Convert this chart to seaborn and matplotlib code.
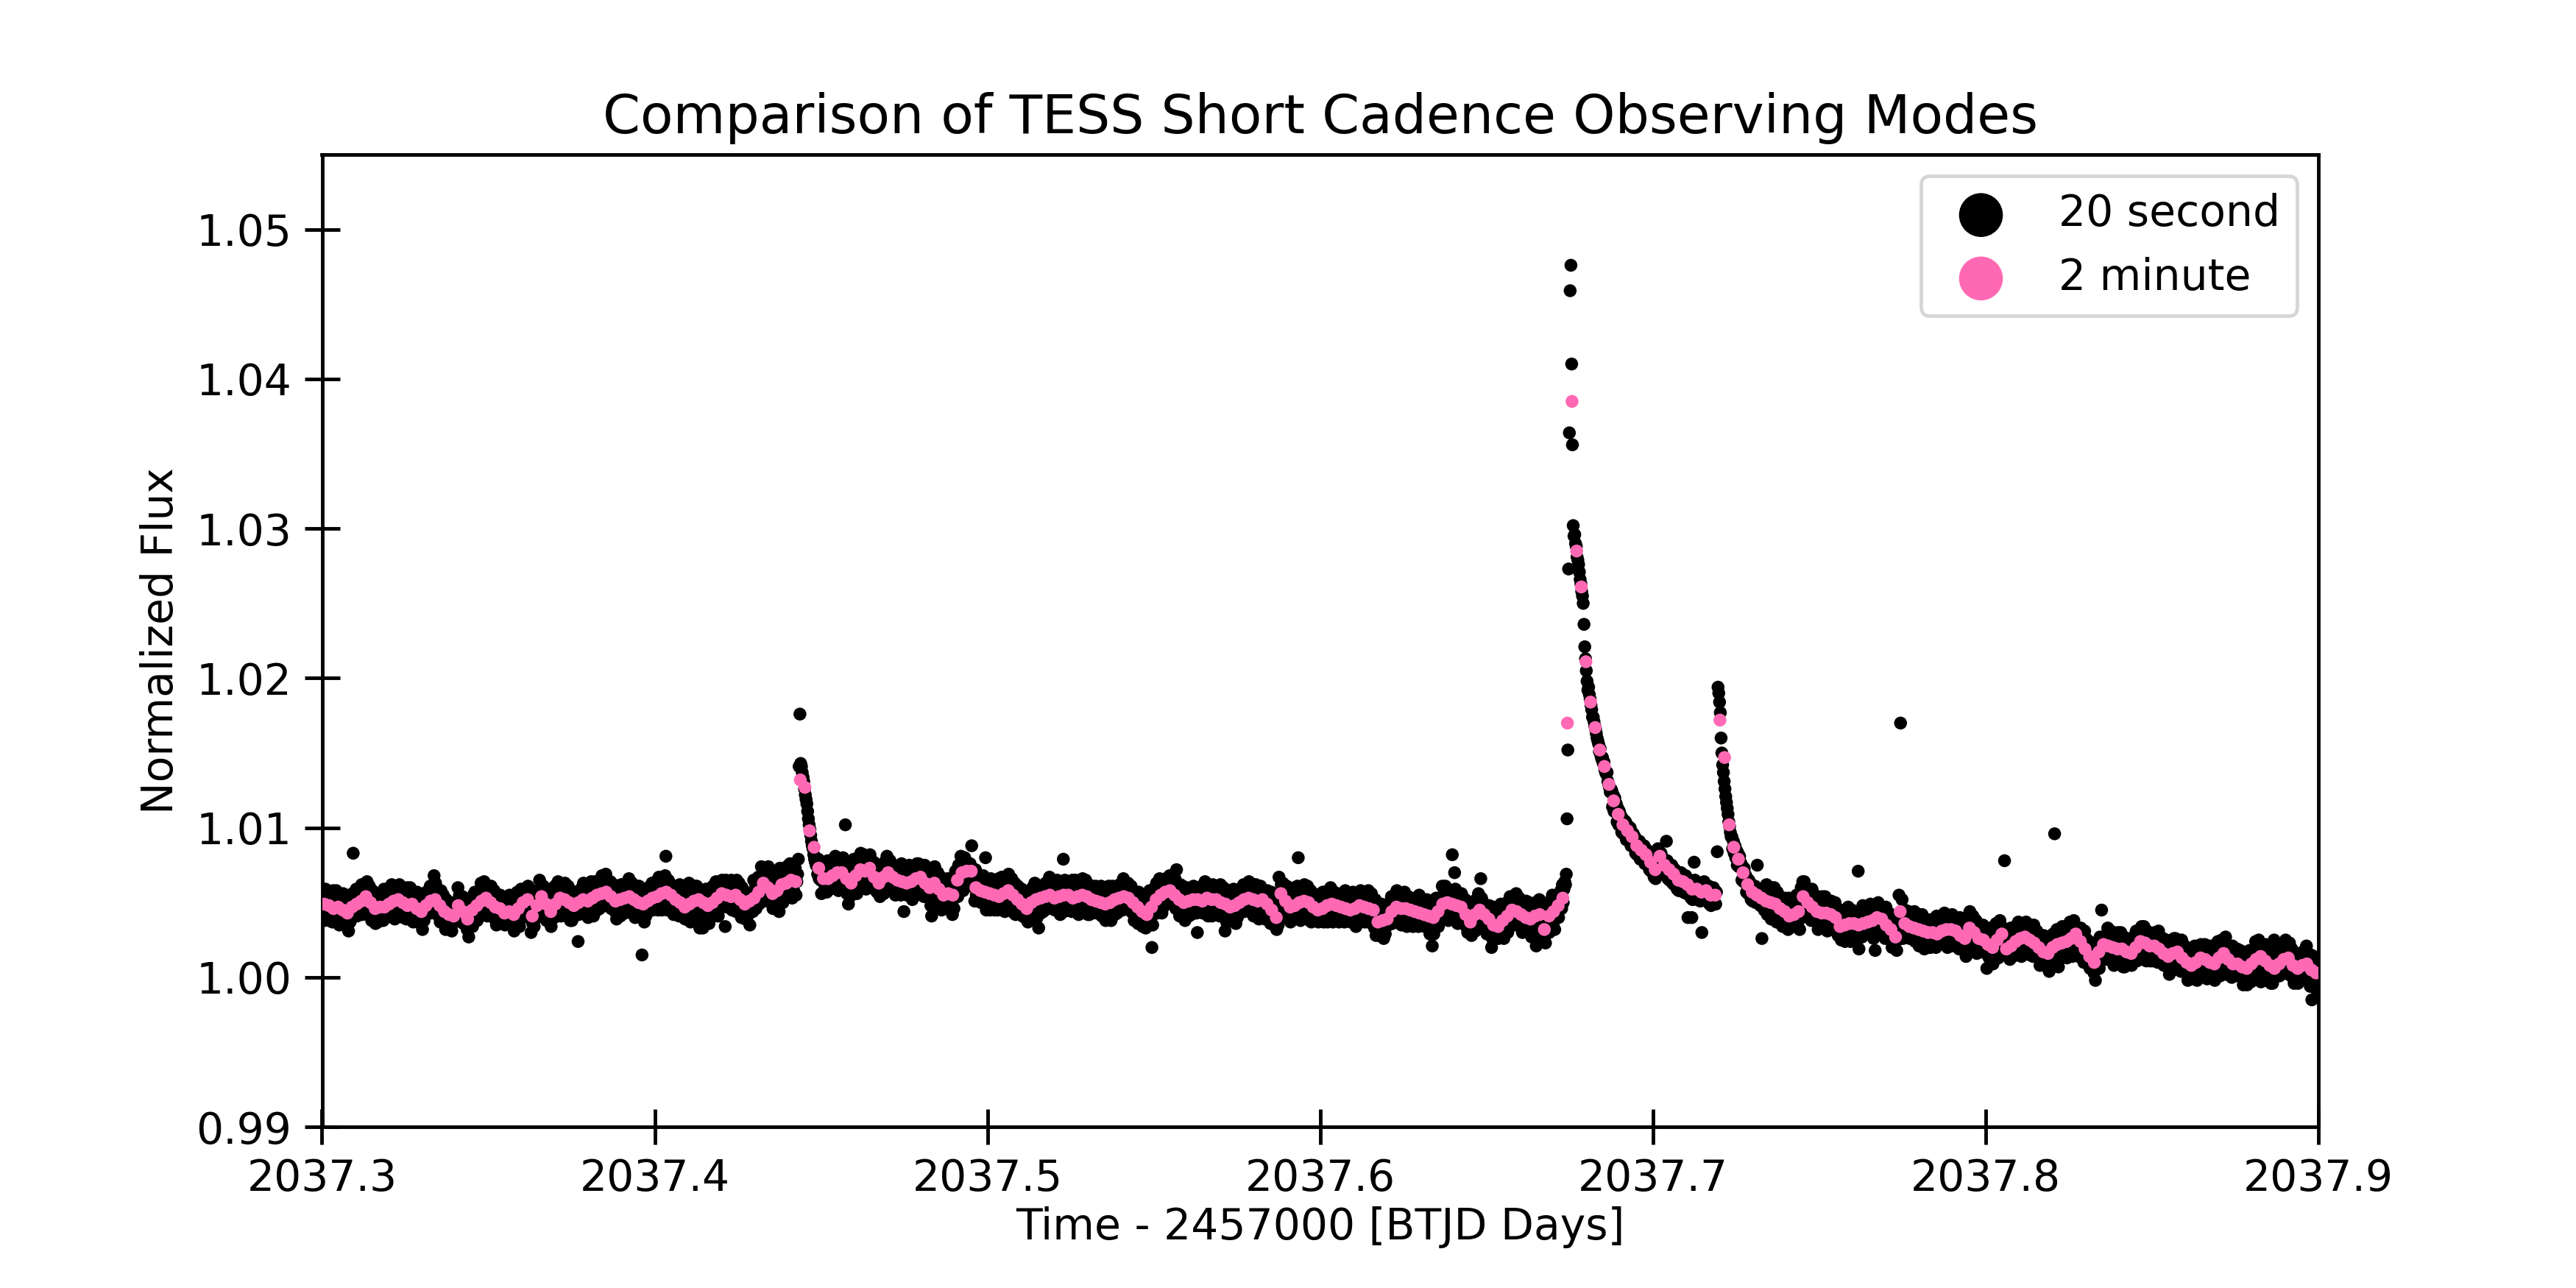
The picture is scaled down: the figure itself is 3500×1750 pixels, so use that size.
import numpy as np
import matplotlib
matplotlib.use("Agg")
import matplotlib.pyplot as plt
import seaborn as sns

# ---------------- text ----------------
title_text = "Comparison of TESS Short Cadence Observing Modes"
xlabel_text = "Time - 2457000 [BTJD Days]"
ylabel_text = "Normalized Flux"
series_labels = ["20 second", "2 minute"]
series_colors = ["black", "hotpink"]

# ---------------- time grid (instrument cadence) ----------------
t_start = 2037.3
cadence_20s = 20.0 / 86400.0
cadence_2min = 120.0 / 86400.0
x_ticks = [2037.3, 2037.4, 2037.5, 2037.6, 2037.7, 2037.8, 2037.9]
y_ticks = [0.99, 1.00, 1.01, 1.02, 1.03, 1.04, 1.05]

# ---------------- 2-minute flux, excess over 1.0 in units of 1e-4 ----------------
flux2_a = [
    49, 48, 46, 47, 45, 43, 47, 49, 51, 54, 50, 46,
    47, 47, 49, 51, 52, 50, 48, 49, 46, 44, 48, 51,
    52, 48, 44, 42, 41, 48, 44, 39, 45, 48, 51, 53,
    50, 47, 46, 43, 44, 42, 46, 50, 52, 41, 48, 54,
    49, 44, 49, 53, 52, 50, 48, 50, 52, 51, 53, 55,
    56, 57, 54, 51, 52, 53, 54, 52, 50, 49, 51, 53,
    54, 56, 57, 55, 52, 50, 47, 49, 51, 52, 50, 48,
    50, 53, 56, 55, 54, 55, 52, 49, 51, 53, 57, 63,
    60, 56, 58, 62, 63, 65, 64, 132, 127, 98, 87, 73,
]
flux2_b = [
    66, 66, 68, 70, 70, 66, 63, 68, 72, 71, 73, 67,
    63, 67, 70, 67, 65, 64, 63, 64, 66, 67, 63, 60,
    63, 59, 55, 56, 55, 65, 70, 71, 71, 60, 58, 57,
    56, 55, 54, 56, 58, 55, 52, 49, 46, 50, 52, 53,
    54, 55, 53, 54, 55, 55, 53, 54, 55, 54, 52, 51,
    50, 49, 50, 52, 53, 54, 53, 50, 47, 44, 42, 47,
    52, 55, 57, 58, 55, 52, 50, 51, 52, 52, 51, 53,
    52, 52, 50, 49, 47, 48, 50, 52, 53, 52, 51, 52,
    49, 45, 40, 56, 51, 47, 48, 50, 51, 50, 47, 45,
]
flux2_c = [
    46, 48, 49, 48, 47, 46, 45, 46, 48, 47, 46, 45,
    37, 38, 39, 44, 47, 46, 46, 45, 44, 43, 42, 41,
    40, 44, 49, 50, 49, 48, 47, 42, 37, 42, 45, 42,
    39, 35, 34, 38, 41, 45, 44, 42, 40, 39, 41, 42,
    32, 41, 44, 48, 53, 170, 385, 285, 261, 211, 184, 167,
    152, 141, 129, 118, 109, 102, 98, 94, 88, 85, 82, 77,
    72, 81, 75, 72, 69, 65, 64, 62, 59, 59, 57, 58,
    55, 55, 172, 147, 102, 87, 79, 70, 62, 57, 55, 53,
    51, 50, 49, 46, 44, 41, 42, 44, 54, 50, 47, 44,
]
flux2_d = [
    43, 43, 42, 40, 34, 35, 36, 36, 35, 36, 37, 38,
    40, 39, 35, 32, 27, 44, 36, 34, 33, 32, 31, 30,
    30, 29, 31, 32, 32, 31, 28, 26, 33, 30, 26, 25,
    22, 20, 25, 29, 19, 21, 24, 26, 27, 25, 23, 20,
    17, 16, 20, 22, 23, 24, 26, 29, 24, 19, 14, 10,
    17, 22, 21, 20, 19, 19, 17, 16, 20, 24, 23, 21,
    21, 19, 16, 14, 16, 17, 13, 10, 8, 10, 13, 12,
    10, 9, 13, 16, 12, 9, 9, 7, 6, 9, 12, 14,
    11, 8, 6, 9, 12, 13, 8, 6, 8, 9, 5, 3,
]

# ---------------- 20-second flux, excess over 1.0 in units of 1e-4 ----------------
flux20_01 = [
    55, 42, 52, 38, 59, 48, 57, 44, 53, 38, 50, 46,
    48, 37, 58, 41, 53, 39, 58, 45, 40, 50, 35, 54,
    39, 53, 43, 56, 36, 43, 40, 54, 35, 47, 31, 51,
    37, 52, 46, 56, 83, 48, 44, 56, 59, 41, 50, 44,
    45, 59, 49, 62, 42, 49, 60, 47, 57, 43, 64, 53,
    47, 61, 42, 54, 38, 58, 55, 42, 51, 36, 48, 44,
    37, 52, 46, 56, 43, 48, 49, 38, 59, 42, 54, 40,
    44, 56, 59, 41, 50, 44, 62, 49, 44, 54, 39, 58,
    58, 45, 55, 41, 62, 51, 59, 46, 55, 40, 52, 48,
    50, 39, 60, 43, 55, 41, 60, 47, 42, 52, 37, 56,
    40, 54, 44, 57, 37, 44, 41, 55, 36, 48, 32, 52,
    38, 53, 47, 57, 44, 49, 46, 58, 61, 43, 52, 46,
    46, 68, 50, 63, 43, 50, 54, 41, 51, 37, 58, 47,
    41, 55, 36, 48, 32, 52, 51, 38, 47, 32, 44, 40,
    31, 46, 40, 50, 37, 42, 50, 39, 60, 43, 55, 41,
    39, 51, 54, 36, 45, 39, 50, 37, 32, 42, 27, 46,
    51, 38, 48, 34, 55, 44, 57, 44, 53, 38, 50, 46,
    53, 42, 63, 46, 58, 44, 64, 51, 46, 56, 41, 60,
]
flux20_02 = [
    44, 58, 48, 61, 41, 48, 44, 58, 39, 51, 35, 55,
    36, 51, 45, 55, 42, 47, 38, 50, 53, 35, 44, 38,
    38, 52, 42, 55, 35, 42, 48, 35, 45, 31, 52, 41,
    43, 57, 38, 50, 34, 54, 59, 46, 55, 40, 52, 48,
    42, 57, 51, 61, 48, 53, 43, 30, 53, 36, 48, 34,
    43, 55, 58, 40, 49, 43, 65, 52, 47, 57, 42, 61,
    55, 42, 52, 38, 59, 48, 53, 40, 49, 34, 46, 42,
    51, 40, 61, 44, 56, 42, 64, 51, 46, 56, 41, 60,
    46, 60, 50, 63, 43, 50, 47, 61, 42, 54, 38, 58,
    38, 53, 47, 57, 44, 49, 45, 57, 24, 42, 51, 45,
    46, 60, 50, 63, 43, 50, 57, 44, 54, 40, 61, 50,
    50, 64, 45, 57, 41, 61, 64, 51, 60, 45, 57, 53,
    46, 61, 55, 68, 52, 57, 59, 48, 69, 52, 64, 50,
    49, 61, 64, 46, 55, 49, 62, 49, 44, 54, 39, 58,
    58, 45, 55, 41, 62, 51, 62, 49, 58, 43, 55, 51,
    56, 45, 66, 49, 61, 47, 63, 50, 45, 55, 40, 59,
    44, 58, 48, 61, 41, 48, 46, 15, 41, 53, 37, 57,
    41, 56, 50, 60, 47, 52, 48, 60, 63, 45, 54, 48,
]
flux20_03 = [
    48, 62, 52, 65, 45, 67, 62, 49, 59, 45, 66, 55,
    54, 68, 81, 61, 45, 65, 64, 51, 60, 45, 57, 53,
    42, 57, 51, 61, 48, 53, 52, 41, 62, 45, 57, 43,
    42, 54, 57, 39, 48, 42, 60, 47, 63, 52, 37, 56,
    57, 44, 54, 40, 61, 50, 61, 48, 57, 42, 33, 50,
    52, 41, 33, 45, 57, 43, 59, 46, 41, 51, 36, 55,
    44, 58, 48, 61, 41, 48, 50, 64, 45, 57, 41, 61,
    46, 61, 55, 65, 52, 57, 50, 34, 65, 47, 56, 50,
    48, 62, 52, 65, 45, 52, 61, 48, 58, 44, 65, 54,
    49, 63, 44, 56, 40, 60, 58, 45, 54, 39, 51, 47,
    41, 56, 50, 35, 47, 52, 55, 44, 65, 48, 60, 46,
    52, 64, 67, 49, 58, 52, 74, 61, 56, 66, 51, 70,
    66, 53, 63, 74, 70, 59, 65, 52, 61, 46, 58, 54,
    60, 49, 70, 53, 65, 44, 73, 60, 55, 65, 50, 69,
    57, 71, 61, 74, 54, 61, 62, 76, 57, 69, 53, 73,
    58, 70, 73, 55, 64, 69, 79, 141, 176, 143, 141, 137,
    134, 131, 126, 122, 119, 116, 111, 106, 102, 99, 95, 91,
    88, 86, 82, 79, 77, 75, 76, 69, 79, 66, 73, 65,
]
flux20_04 = [
    56, 71, 65, 75, 62, 67, 68, 57, 78, 61, 73, 59,
    63, 75, 78, 60, 69, 63, 81, 68, 63, 73, 58, 77,
    76, 63, 73, 59, 80, 69, 75, 102, 71, 56, 68, 49,
    65, 54, 75, 58, 70, 56, 79, 66, 61, 71, 56, 75,
    66, 80, 70, 83, 63, 70, 68, 82, 63, 75, 59, 79,
    63, 78, 72, 82, 69, 74, 62, 74, 77, 59, 68, 62,
    57, 71, 61, 74, 54, 61, 73, 60, 70, 56, 77, 66,
    67, 81, 62, 74, 58, 78, 76, 63, 72, 57, 69, 65,
    55, 70, 64, 74, 61, 66, 66, 55, 76, 59, 71, 44,
    58, 70, 73, 55, 64, 58, 75, 62, 57, 67, 52, 71,
    72, 59, 69, 55, 76, 65, 76, 63, 72, 57, 69, 65,
    65, 54, 75, 58, 70, 56, 71, 58, 53, 63, 48, 41,
    57, 71, 61, 74, 54, 61, 56, 70, 51, 63, 47, 67,
    45, 60, 54, 64, 51, 56, 51, 63, 66, 48, 57, 51,
    49, 63, 42, 66, 46, 53, 71, 58, 68, 54, 75, 64,
    67, 81, 62, 74, 58, 78, 80, 67, 76, 61, 73, 69,
    61, 76, 70, 88, 67, 72, 62, 51, 72, 55, 67, 53,
    53, 65, 68, 50, 59, 53, 68, 55, 50, 80, 45, 64,
]
flux20_05 = [
    62, 49, 59, 45, 66, 55, 64, 51, 60, 45, 57, 53,
    56, 45, 66, 49, 61, 47, 67, 54, 49, 59, 44, 63,
    52, 66, 56, 69, 49, 56, 52, 66, 47, 59, 43, 63,
    42, 57, 51, 61, 48, 53, 44, 56, 59, 41, 50, 44,
    40, 54, 44, 57, 37, 44, 56, 43, 53, 39, 60, 49,
    49, 63, 44, 56, 40, 60, 33, 49, 58, 43, 55, 51,
    44, 59, 53, 63, 50, 55, 57, 46, 67, 50, 62, 48,
    48, 60, 63, 45, 54, 48, 65, 52, 47, 57, 42, 61,
    61, 48, 79, 44, 65, 54, 64, 51, 60, 45, 57, 53,
    55, 44, 65, 48, 60, 46, 65, 52, 47, 57, 42, 61,
    49, 63, 53, 66, 46, 53, 51, 65, 46, 58, 42, 62,
    42, 57, 51, 61, 48, 53, 46, 58, 61, 43, 52, 46,
    44, 58, 48, 61, 41, 48, 55, 42, 52, 38, 59, 48,
    47, 61, 42, 54, 38, 58, 61, 48, 57, 42, 54, 50,
    43, 58, 52, 62, 49, 54, 56, 45, 66, 49, 61, 47,
    48, 60, 63, 45, 54, 48, 61, 48, 43, 53, 38, 57,
    53, 40, 50, 36, 57, 46, 53, 40, 49, 34, 46, 42,
    44, 33, 54, 37, 49, 35, 58, 45, 40, 20, 35, 54,
]
flux20_06 = [
    46, 60, 50, 63, 43, 50, 52, 66, 47, 59, 43, 63,
    47, 62, 56, 66, 53, 58, 53, 65, 68, 50, 59, 53,
    49, 63, 53, 66, 46, 72, 58, 45, 55, 41, 62, 51,
    47, 61, 42, 54, 38, 58, 60, 47, 56, 41, 53, 49,
    42, 57, 51, 61, 48, 53, 54, 43, 30, 47, 59, 45,
    46, 58, 61, 43, 52, 46, 64, 51, 46, 56, 41, 60,
    58, 45, 55, 41, 62, 51, 61, 48, 57, 42, 54, 50,
    52, 41, 62, 45, 57, 43, 60, 47, 31, 52, 37, 56,
    41, 55, 45, 58, 38, 45, 45, 59, 40, 52, 36, 56,
    40, 55, 49, 59, 46, 51, 47, 59, 62, 44, 53, 47,
    47, 61, 51, 64, 44, 51, 58, 45, 55, 41, 62, 51,
    62, 60, 43, 55, 39, 59, 61, 48, 57, 42, 54, 50,
    39, 54, 48, 58, 45, 50, 47, 36, 57, 40, 52, 38,
    35, 47, 50, 32, 41, 35, 67, 54, 49, 62, 44, 63,
    57, 44, 54, 40, 61, 50, 56, 43, 52, 37, 49, 45,
    50, 39, 60, 43, 55, 41, 61, 80, 43, 53, 38, 57,
    45, 59, 49, 62, 42, 49, 47, 61, 42, 54, 38, 58,
    37, 52, 46, 56, 43, 48, 40, 52, 55, 37, 46, 40,
]
flux20_07 = [
    40, 54, 44, 57, 37, 44, 54, 41, 51, 37, 58, 47,
    46, 60, 41, 53, 37, 57, 57, 44, 53, 38, 50, 46,
    37, 52, 46, 56, 43, 48, 48, 37, 58, 41, 53, 39,
    40, 52, 55, 37, 46, 40, 57, 44, 39, 49, 34, 53,
    54, 41, 51, 37, 58, 47, 56, 43, 52, 37, 49, 45,
    48, 37, 58, 41, 53, 39, 56, 43, 38, 48, 33, 52,
    28, 45, 35, 48, 28, 35, 35, 49, 30, 42, 26, 46,
    29, 44, 38, 48, 35, 40, 39, 51, 54, 36, 45, 39,
    41, 55, 45, 58, 38, 45, 52, 39, 49, 35, 56, 45,
    43, 57, 38, 50, 34, 54, 54, 41, 50, 35, 47, 43,
    34, 49, 43, 53, 40, 45, 45, 34, 55, 38, 50, 36,
    37, 49, 52, 34, 43, 37, 52, 39, 34, 44, 29, 48,
    46, 21, 43, 29, 50, 39, 53, 40, 49, 34, 46, 42,
    51, 40, 61, 44, 56, 42, 61, 48, 43, 53, 38, 57,
    43, 57, 47, 82, 40, 47, 70, 59, 40, 52, 36, 56,
    37, 52, 46, 56, 43, 48, 37, 49, 52, 34, 43, 30,
    31, 45, 35, 48, 28, 35, 48, 35, 45, 31, 52, 41,
    42, 56, 37, 49, 66, 53, 51, 38, 47, 32, 44, 40,
]
flux20_08 = [
    29, 44, 38, 48, 35, 40, 20, 26, 47, 30, 42, 28,
    29, 41, 44, 26, 35, 29, 49, 36, 31, 41, 26, 45,
    47, 34, 44, 30, 51, 40, 54, 41, 50, 35, 47, 43,
    46, 35, 56, 39, 51, 37, 53, 40, 35, 45, 30, 49,
    34, 48, 38, 51, 31, 38, 36, 50, 31, 43, 27, 47,
    31, 46, 40, 50, 21, 42, 37, 49, 52, 34, 43, 37,
    26, 40, 30, 43, 23, 30, 47, 34, 44, 30, 51, 40,
    41, 55, 36, 48, 32, 52, 55, 44, 53, 40, 52, 50,
    58, 46, 62, 50, 59, 64, 62, 69, 106, 152, 273, 364,
    459, 476, 410, 356, 302, 295, 296, 290, 288, 281, 279, 276,
    271, 266, 263, 258, 255, 250, 236, 221, 213, 205, 198, 192,
    194, 189, 186, 182, 179, 174, 174, 171, 168, 166, 163, 160,
    158, 156, 151, 153, 148, 146, 147, 143, 144, 139, 137, 136,
    137, 131, 129, 127, 124, 126, 125, 114, 122, 111, 120, 116,
    116, 104, 113, 102, 111, 108, 108, 97, 106, 96, 105, 100,
    104, 92, 102, 93, 100, 97, 100, 88, 97, 89, 96, 94,
    94, 83, 92, 82, 90, 87, 91, 79, 89, 80, 88, 83,
    88, 76, 86, 77, 85, 80, 83, 72, 81, 71, 80, 75,
]
flux20_09 = [
    78, 67, 76, 66, 75, 70, 86, 76, 84, 75, 83, 80,
    80, 70, 78, 69, 77, 91, 78, 66, 76, 65, 75, 71,
    75, 63, 73, 62, 72, 68, 71, 59, 69, 58, 68, 64,
    70, 58, 68, 57, 67, 63, 68, 56, 66, 40, 65, 61,
    65, 53, 40, 52, 64, 77, 65, 53, 63, 52, 62, 58,
    63, 51, 61, 30, 60, 56, 64, 52, 62, 51, 61, 57,
    61, 49, 59, 48, 58, 54, 60, 50, 58, 49, 57, 84,
    194, 190, 184, 177, 160, 150, 142, 137, 131, 126, 121, 117,
    113, 109, 104, 101, 97, 94, 94, 86, 91, 83, 88, 80,
    85, 75, 83, 74, 81, 77, 76, 65, 74, 64, 73, 69,
    68, 57, 66, 56, 65, 61, 63, 52, 61, 51, 60, 56,
    61, 50, 59, 75, 58, 53, 59, 48, 57, 26, 56, 52,
    45, 59, 49, 62, 42, 49, 56, 43, 53, 39, 60, 49,
    46, 60, 41, 53, 37, 57, 55, 42, 51, 36, 48, 44,
    34, 49, 43, 53, 40, 45, 43, 32, 53, 36, 48, 34,
    37, 49, 52, 34, 43, 37, 55, 42, 37, 47, 32, 51,
    60, 47, 64, 43, 64, 53, 59, 46, 55, 40, 52, 48,
    49, 38, 59, 42, 54, 40, 55, 42, 37, 47, 32, 51,
]
flux20_10 = [
    37, 51, 41, 54, 34, 41, 40, 54, 35, 47, 31, 51,
    32, 47, 41, 51, 38, 43, 35, 47, 50, 32, 41, 35,
    28, 42, 32, 45, 25, 32, 41, 28, 38, 24, 45, 34,
    33, 47, 28, 40, 24, 44, 45, 32, 41, 26, 38, 34,
    25, 40, 71, 19, 31, 36, 38, 27, 48, 31, 43, 29,
    32, 44, 47, 29, 38, 32, 49, 36, 31, 41, 26, 45,
    18, 33, 43, 29, 50, 39, 48, 35, 44, 29, 41, 37,
    37, 26, 47, 30, 42, 28, 43, 30, 25, 35, 20, 39,
    21, 35, 25, 38, 18, 25, 41, 55, 36, 170, 32, 52,
    26, 41, 35, 45, 32, 37, 29, 41, 44, 26, 35, 29,
    27, 41, 31, 44, 24, 31, 38, 25, 35, 21, 42, 31,
    28, 42, 23, 35, 19, 39, 39, 26, 35, 20, 32, 28,
    20, 35, 29, 39, 26, 31, 31, 20, 41, 24, 36, 22,
    26, 38, 41, 23, 32, 26, 43, 30, 25, 35, 20, 39,
    38, 25, 35, 21, 42, 31, 40, 27, 36, 21, 33, 29,
    30, 19, 40, 23, 35, 21, 37, 24, 19, 29, 14, 33,
    27, 41, 31, 44, 24, 31, 27, 41, 22, 34, 18, 38,
    16, 31, 25, 35, 22, 27, 20, 32, 35, 17, 26, 20,
]
flux20_11 = [
    16, 6, 20, 33, 13, 20, 26, 13, 23, 9, 30, 19,
    22, 36, 17, 29, 13, 33, 38, 25, 34, 19, 31, 27,
    78, 24, 18, 28, 15, 20, 23, 12, 33, 16, 28, 14,
    19, 31, 34, 16, 25, 19, 37, 24, 19, 29, 14, 33,
    33, 20, 30, 16, 37, 26, 34, 21, 30, 15, 27, 23,
    25, 14, 35, 18, 30, 16, 31, 18, 13, 23, 8, 27,
    11, 25, 15, 28, 8, 15, 13, 27, 8, 20, 4, 24,
    10, 25, 19, 29, 16, 96, 17, 29, 32, 14, 7, 17,
    17, 31, 21, 34, 14, 21, 30, 17, 27, 13, 34, 23,
    23, 37, 18, 30, 14, 34, 38, 25, 34, 19, 31, 27,
    14, 29, 23, 33, 20, 25, 21, 10, 31, 14, 26, 12,
    9, 21, 24, 6, 15, 9, 21, 8, 3, 13, -2, 17,
    23, 10, 20, 6, 27, 16, 45, 18, 27, 12, 24, 20,
    23, 12, 33, 16, 28, 14, 31, 18, 13, 23, 8, 27,
    13, 27, 17, 30, 10, 17, 16, 30, 11, 23, 7, 27,
    7, 22, 16, 26, 13, 18, 11, 23, 26, 8, 17, 11,
    14, 28, 18, 31, 11, 18, 30, 17, 27, 13, 34, 23,
    20, 34, 15, 27, 11, 31, 30, 17, 26, 11, 23, 19,
]
flux20_12 = [
    11, 26, 20, 30, 17, 22, 21, 10, 31, 14, 26, 12,
    11, 23, 26, 8, 17, 11, 25, 12, 7, 17, 2, 21,
    22, 9, 19, 5, 26, 15, 26, 13, 22, 7, 19, 15,
    15, 4, 25, 8, 20, 6, 21, 8, 3, 13, -2, 17,
    2, 16, 6, 19, -1, 6, 7, 21, 2, 14, -2, 18,
    3, 18, 12, 22, 9, 14, 7, 19, 22, 4, 13, -1,
    4, 18, 8, 21, 1, 8, 15, 2, 12, -2, 19, 8,
    10, 24, 5, 17, 1, 21, 25, 12, 21, 6, 18, 27,
    2, 17, 11, 21, 8, 13, 11, 0, 21, 4, 16, 2,
    4, 16, 19, 1, 10, 4, 18, 5, 0, 10, -5, 14,
    12, -1, 9, -5, 16, 5, 18, 5, -3, -1, 11, 7,
    14, 3, 24, 7, 19, 5, 25, 12, 7, -3, 2, 21,
    5, 19, 9, 22, 2, 9, 5, 19, 0, 12, -4, 16,
    -4, 11, 25, 15, 2, 7, 4, 16, 19, 1, 10, 4,
    6, 20, 10, 23, 3, 25, 19, 6, 16, 2, 23, 12,
    5, 19, 0, 12, -4, 16, 15, 2, 11, -4, 8, 4,
    -2, 13, 7, 17, 4, 9, 11, 0, 21, 4, 16, 2,
    0, -6, 15, -15, 6, 0, 14, 1, -4, 6, -9, 10,
]

# ---------------- assemble ----------------
flux20_units = np.concatenate([flux20_01, flux20_02, flux20_03, flux20_04,
                               flux20_05, flux20_06, flux20_07, flux20_08,
                               flux20_09, flux20_10, flux20_11, flux20_12])
flux2_units = np.concatenate([flux2_a, flux2_b, flux2_c, flux2_d])
f20 = 1.0 + flux20_units * 1e-4
f2 = 1.0 + flux2_units * 1e-4
t20 = t_start + (np.arange(len(f20)) + 0.5) * cadence_20s
t2 = t_start + (np.arange(len(f2)) + 0.5) * cadence_2min

# ---------------- plot ----------------
plt.rcParams["font.family"] = ["DejaVu Sans"]
plt.rcParams["axes.linewidth"] = 1.0

fig, ax = plt.subplots(figsize=(10, 5), dpi=350)
fig.subplots_adjust(left=0.125, right=0.9, bottom=0.125, top=0.88)

marker_area = 13
sns.scatterplot(x=t20, y=f20, color=series_colors[0], s=marker_area, linewidth=0,
                edgecolor="none", label=series_labels[0], ax=ax, zorder=2)
sns.scatterplot(x=t2, y=f2, color=series_colors[1], s=marker_area, linewidth=0,
                edgecolor="none", label=series_labels[1], ax=ax, zorder=3)

ax.set_xlim(x_ticks[0], x_ticks[-1])
ax.set_ylim(0.99, 1.055)
ax.set_xticks(x_ticks)
ax.set_xticklabels([f"{v:.1f}" for v in x_ticks])
ax.set_yticks(y_ticks)
ax.set_yticklabels([f"{v:.2f}" for v in y_ticks])
ax.tick_params(direction="inout", length=10, width=1, labelsize=12)

ax.set_title(title_text, fontsize=15)
ax.set_xlabel(xlabel_text, fontsize=12, labelpad=2)
ax.set_ylabel(ylabel_text, fontsize=12)

ax.legend(loc="upper right", markerscale=3.4, fontsize=12)

fig.savefig("out.png", dpi=350)
